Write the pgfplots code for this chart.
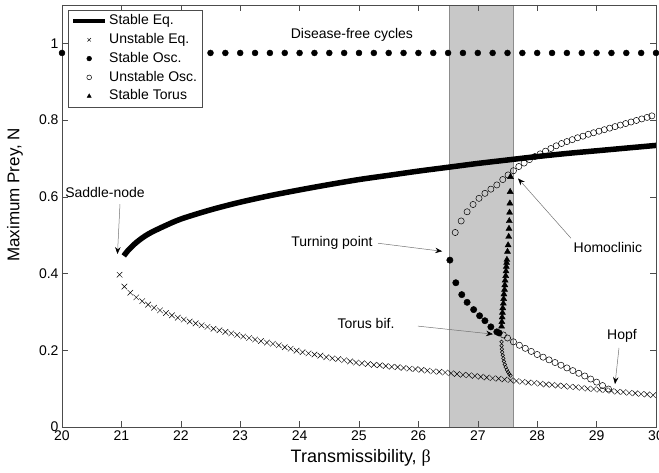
\documentclass[border=0pt]{standalone}
\usepackage{pgfplots}
\pgfplotsset{compat=1.18}
\usepackage{fontspec}
\setmainfont{Liberation Sans}
\newfontfamily\serifgreek{Liberation Serif}
\usetikzlibrary{arrows.meta}
\definecolor{boxgray}{RGB}{200,200,200}
\begin{document}
\begin{tikzpicture}
\begin{axis}[
  scale only axis, width=594pt, height=422pt,
  xmin=20, xmax=30, ymin=0, ymax=1.1,
  xtick={20,21,...,30}, ytick={0,0.2,0.4,0.6,0.8,1},
  tick align=inside, major tick length=6pt,
  axis on top,
  axis line style={black!70, line width=0.5pt},
  every tick/.style={black!70, line width=0.5pt},
  tick label style={font=\fontsize{14}{16}\selectfont},
  /pgf/number format/assume math mode=true,
  xlabel={Transmissibility, {\serifgreek β}},
  ylabel={Maximum Prey, N},
  xlabel style={at={(axis description cs:0.503,-0.083)}, anchor=base, font=\fontsize{18}{20}\selectfont},
  ylabel style={at={(axis description cs:-0.079,0.55)}, anchor=center, font=\fontsize{17}{20}\selectfont},
  legend cell align=left,
  legend style={at={(0.0101,0.988)}, anchor=north west, draw=black!70, fill=white,
    font=\fontsize{14}{16}\selectfont, inner xsep=3pt, inner ysep=2pt, row sep=1.3pt,
    nodes={inner sep=2pt, text height=10.5pt, text depth=3pt}},
  legend image code/.code={\draw[mark repeat=2,mark phase=2,#1] plot coordinates {(0pt,0pt)(16pt,0pt)(32pt,0pt)};},
  legend image post style={mark size=2.4pt},
]
% shaded region
\addplot[forget plot, fill=boxgray, draw=black!45, line width=0.6pt] coordinates {(26.52,1.1)(27.6,1.1)} \closedcycle;
% disease-free cycles
\addplot[forget plot, only marks, mark=*, mark size=3pt, black] coordinates {
(20,0.975)(20.25,0.975)(20.5,0.975)(20.75,0.975)(21,0.975)(21.25,0.975)(21.5,0.975)(21.75,0.975)
(22,0.975)(22.25,0.975)(22.5,0.975)(22.75,0.975)(23,0.975)(23.25,0.975)(23.5,0.975)(23.75,0.975)
(24,0.975)(24.25,0.975)(24.5,0.975)(24.75,0.975)(25,0.975)(25.25,0.975)(25.5,0.975)(25.75,0.975)
(26,0.975)(26.25,0.975)(26.5,0.975)(26.75,0.975)(27,0.975)(27.25,0.975)(27.5,0.975)(27.75,0.975)
(28,0.975)(28.25,0.975)(28.5,0.975)(28.75,0.975)(29,0.975)(29.25,0.975)(29.5,0.975)(29.75,0.975)(30,0.975)};
% Stable equilibrium
\addplot[black, line width=5.5pt, line cap=butt, no marks, smooth, legend image post style={line width=4pt}] coordinates {
(21.04,0.446)(21.1,0.458)(21.2,0.474)(21.3,0.487)(21.4,0.498)(21.5,0.507)(21.7,0.522)(22.0,0.542)
(22.5,0.566)(23.0,0.586)(23.5,0.603)(24.0,0.618)(24.5,0.632)(25.0,0.645)(25.5,0.656)(26.0,0.667)
(26.5,0.677)(27.0,0.687)(27.5,0.696)(28.0,0.705)(28.5,0.713)(29.0,0.720)(29.5,0.727)(30.0,0.734)};
\addlegendentry{Stable Eq.}
% Unstable equilibrium
\addplot[only marks, mark=x, mark size=3.9pt, black, line width=0.45pt] coordinates {
(20.97,0.397)(21.05,0.366)(21.15,0.350)(21.25,0.338)(21.35,0.328)(21.45,0.319)(21.55,0.311)(21.65,0.304)
(21.75,0.297)(21.85,0.291)(21.95,0.285)(22.05,0.280)(22.15,0.275)(22.25,0.270)(22.35,0.265)(22.45,0.261)
(22.55,0.256)(22.65,0.252)(22.75,0.248)(22.85,0.244)(22.95,0.240)(23.05,0.236)(23.15,0.232)(23.25,0.228)
(23.35,0.224)(23.45,0.220)(23.55,0.217)(23.65,0.213)(23.75,0.208)(23.85,0.204)(23.95,0.199)(24.05,0.195)
(24.15,0.192)(24.25,0.189)(24.35,0.186)(24.45,0.182)(24.55,0.179)(24.65,0.177)(24.75,0.174)(24.85,0.171)
(24.95,0.168)(25.05,0.166)(25.15,0.164)(25.25,0.162)(25.35,0.161)(25.45,0.159)(25.55,0.157)(25.65,0.156)
(25.75,0.154)(25.85,0.152)(25.95,0.151)(26.05,0.149)(26.15,0.147)(26.25,0.145)(26.35,0.144)(26.45,0.142)
(26.55,0.140)(26.65,0.138)(26.75,0.136)(26.85,0.135)(26.95,0.133)(27.05,0.131)(27.15,0.129)(27.25,0.127)
(27.35,0.126)(27.45,0.124)(27.55,0.122)(27.65,0.120)(27.75,0.118)(27.85,0.116)(27.95,0.115)(28.05,0.113)
(28.15,0.111)(28.25,0.110)(28.35,0.108)(28.45,0.107)(28.55,0.105)(28.65,0.104)(28.75,0.102)(28.85,0.100)
(28.95,0.099)(29.05,0.097)(29.15,0.096)(29.25,0.094)(29.35,0.092)(29.45,0.091)(29.55,0.089)(29.65,0.088)
(29.75,0.086)(29.85,0.085)(29.95,0.083)};
\addlegendentry{Unstable Eq.}
% Stable oscillations
\addplot[only marks, mark=*, mark size=3.2pt, black] coordinates {
(26.53,0.435)(26.63,0.376)(26.73,0.345)(26.82,0.325)(26.93,0.306)(27.03,0.290)(27.12,0.277)(27.22,0.261)
(27.32,0.248)(27.36,0.245)};
\addlegendentry{Stable Osc.}
% Unstable oscillations (upper)
\addplot[only marks, mark=o, mark size=3.1pt, black, line width=0.5pt] coordinates {
(26.62,0.507)(26.72,0.537)(26.82,0.561)(26.92,0.580)(27.02,0.596)(27.12,0.609)(27.22,0.620)(27.32,0.631)
(27.42,0.645)(27.51,0.657)(27.60,0.668)(27.69,0.679)(27.78,0.688)(27.87,0.697)(27.96,0.705)(28.05,0.712)
(28.14,0.719)(28.23,0.726)(28.32,0.733)(28.41,0.739)(28.50,0.744)(28.59,0.749)(28.68,0.754)(28.77,0.758)
(28.86,0.763)(28.95,0.767)(29.04,0.771)(29.13,0.775)(29.22,0.779)(29.31,0.783)(29.40,0.787)(29.49,0.791)
(29.58,0.795)(29.67,0.799)(29.76,0.803)(29.85,0.807)(29.93,0.811)};
\addlegendentry{Unstable Osc.}
% Stable torus
\addplot[only marks, mark=triangle*, mark size=3.5pt, black] coordinates {
(27.400,0.262)(27.405,0.274)(27.410,0.286)(27.415,0.298)(27.420,0.310)(27.430,0.322)(27.435,0.334)(27.440,0.346)
(27.450,0.358)(27.455,0.370)(27.460,0.382)(27.470,0.394)(27.475,0.406)(27.480,0.418)(27.485,0.428)(27.490,0.436)
(27.500,0.457)(27.510,0.474)(27.520,0.496)(27.525,0.517)(27.530,0.537)(27.535,0.559)(27.540,0.583)(27.545,0.613)
(27.550,0.652)};
\addlegendentry{Stable Torus}
% Unstable oscillations (lower, towards Hopf)
\addplot[forget plot, only marks, mark=o, mark size=3.1pt, black, line width=0.5pt] coordinates {
(27.43,0.240)(27.50,0.232)(27.60,0.222)(27.70,0.213)(27.80,0.205)(27.90,0.197)(28.00,0.189)(28.10,0.182)
(28.20,0.175)(28.30,0.168)(28.40,0.161)(28.50,0.154)(28.60,0.147)(28.70,0.140)(28.80,0.133)(28.90,0.125)
(29.00,0.117)(29.10,0.108)(29.20,0.099)};
% Unstable oscillations (small, below torus bifurcation)
\addplot[forget plot, only marks, mark=o, mark size=1.8pt, black, line width=0.5pt] coordinates {
(27.400,0.222)(27.400,0.212)(27.405,0.203)(27.410,0.195)(27.420,0.187)(27.430,0.179)(27.440,0.171)(27.455,0.163)
(27.470,0.156)(27.490,0.149)(27.510,0.143)(27.530,0.138)(27.550,0.134)};
% annotations
\tikzset{ann/.style={font=\fontsize{14}{16}\selectfont},
  arr/.style={draw=black!55, line width=0.5pt, -{Stealth[black, length=7pt, width=5.5pt, inset=2.5pt]}}}
\node[ann] at (axis cs:24.88,1.023) {Disease-free cycles};
\node[ann] at (axis cs:20.724,0.612) {Saddle-node};
\draw[arr] (axis cs:20.976,0.581) -- (axis cs:20.934,0.451);
\node[ann] at (axis cs:24.545,0.479) {Turning point};
\draw[arr] (axis cs:25.32,0.479) -- (axis cs:26.40,0.458);
\node[ann] at (axis cs:25.118,0.271) {Torus bif.};
\draw[arr] (axis cs:25.99,0.263) -- (axis cs:27.256,0.242);
\node[ann] at (axis cs:29.19,0.469) {Homoclinic};
\draw[arr] (axis cs:28.569,0.492) -- (axis cs:27.677,0.648);
\node[ann] at (axis cs:29.428,0.237) {Hopf};
\draw[arr] (axis cs:29.377,0.206) -- (axis cs:29.31,0.112);
\end{axis}
\pgfresetboundingbox
\path (current axis.south west) ++(-62pt,-46pt) rectangle ++(659pt,473pt);
\end{tikzpicture}
\end{document}
